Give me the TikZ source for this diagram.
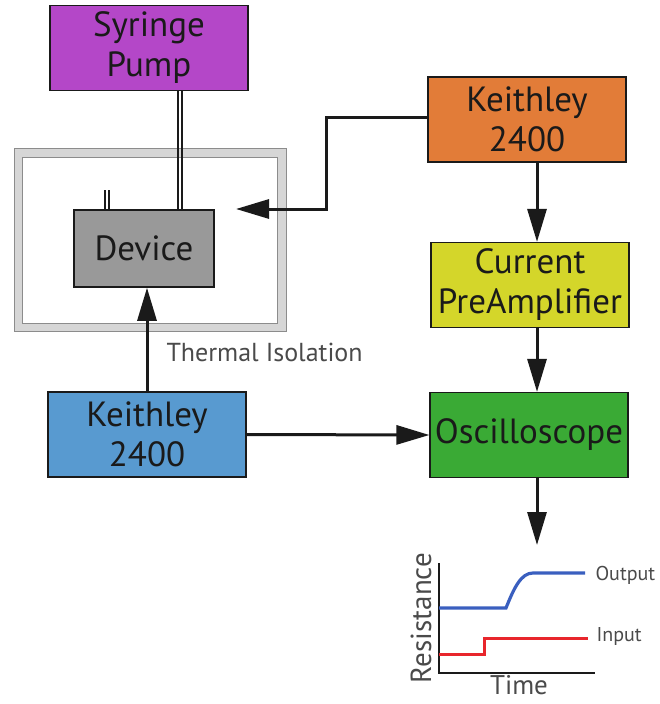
\documentclass[tikz,border=0pt]{standalone}
\usepackage{fontspec}
\setmainfont{PT Sans}
\usetikzlibrary{arrows.meta, positioning}
\definecolor{ink}{HTML}{1A1A1A}
\definecolor{muted}{HTML}{4A4A4A}
\definecolor{isoline}{HTML}{8C8C8C}
\definecolor{isofill}{HTML}{D6D6D6}
\definecolor{pump}{HTML}{B447C8}
\definecolor{keith}{HTML}{E27C38}
\definecolor{preamp}{HTML}{D4D62A}
\definecolor{source}{HTML}{589AD0}
\definecolor{scope}{HTML}{3AAA35}
\definecolor{device}{HTML}{999999}
\definecolor{outcurve}{HTML}{3A5FBF}
\definecolor{incurve}{HTML}{E8262C}
\tikzset{
  nodebase/.style={font=\fontsize{35}{40}\selectfont, text=ink},
  instrument/.style={nodebase, draw=ink, line width=1.2pt, align=center,
    minimum width=198pt, minimum height=85pt, inner sep=0pt},
  devbox/.style={nodebase, draw=ink, line width=1.5pt, fill=device,
    minimum width=140pt, minimum height=77pt, inner sep=0pt},
  arrow/.style={-{Triangle[length=33pt, width=19pt]}, draw=ink, line width=3pt},
  tubeline/.style={draw=ink, line width=1.3pt},
  axis/.style={draw=ink, line width=2.6pt},
  label/.style={font=\fontsize{26}{30}\selectfont, text=muted},
  note/.style={font=\fontsize{20}{24}\selectfont, text=muted}
}
\begin{document}
\begin{tikzpicture}[x=1pt,y=-1pt]
\useasboundingbox (0,0) rectangle (660,704);

% Thermal isolation
\node[draw=isoline, fill=isofill, line width=1pt, minimum width=272pt,
  minimum height=183pt, inner sep=0pt] (iso) at (150,239.5) {};
\node[draw=isoline, fill=white, line width=1pt, minimum width=255pt,
  minimum height=166pt, inner sep=0pt] (isoin) at (149.5,240) {};
\node[label, anchor=west] (isolabel) at (163,352) {Thermal Isolation};

% Instruments
\node[instrument, fill=pump] (pump) at (149,48) {Syringe\\Pump};
\node[devbox] (dev) at (144,248.5) {Device};
\node[instrument, fill=keith] (keithtop) at (527,119.5) {Keithley\\2400};
\node[instrument, fill=preamp] (preamp) at (530,285) {Current\\PreAmplifier};
\node[instrument, fill=source] (keithbot) at (147,434.5) {Keithley\\2400};
\node[instrument, fill=scope] (scope) at (529,435) {Oscilloscope};

% Tubes
\foreach \dx in {178,182}
  \draw[tubeline] (pump.south -| \dx,0) -- (dev.north -| \dx,0);
\foreach \dx in {105,109}
  \draw[tubeline] (\dx,190) -- (dev.north -| \dx,0);

% Connections
\coordinate (devtip) at (236,209);
\coordinate (bend) at (326,209);
\draw[arrow] (keithtop.west |- 0,117) -| (bend) -- (devtip);
\draw[arrow] (keithtop.south -| 537,0) -- (preamp.north -| 537,0);
\draw[arrow] (preamp.south -| 537,0) -- (scope.north -| 537,0);
\draw[arrow] (keithbot.east) -- (scope.west);
\draw[arrow] (keithbot.north) -- (keithbot.north |- dev.south);
\coordinate (graphtop) at (537,545);
\draw[arrow] (scope.south -| graphtop) -- (graphtop);

% Resistance plot
\coordinate (origin) at (439,673);
\draw[axis] (439,563) -- (origin) -- (595,673);
\draw[outcurve, line width=3.2pt] (439,608) -- (506,608)
  .. controls (514,588) and (521,573) .. (533,573) -- (585,573);
\draw[incurve, line width=3pt] (439,654) -- (484,654) -- (484,638) -- (588,638);
\node[note, anchor=west] (outlabel) at (592,575) {Output};
\node[note, anchor=west] (inlabel) at (593,636) {Input};
\node[label, font=\fontsize{29}{32}\selectfont, rotate=90] (ylabel) at (421,618) {Resistance};
\node[label, font=\fontsize{27}{30}\selectfont, anchor=base, inner sep=0pt]
  (xlabel) at (519,694) {Time};

\end{tikzpicture}
\end{document}
